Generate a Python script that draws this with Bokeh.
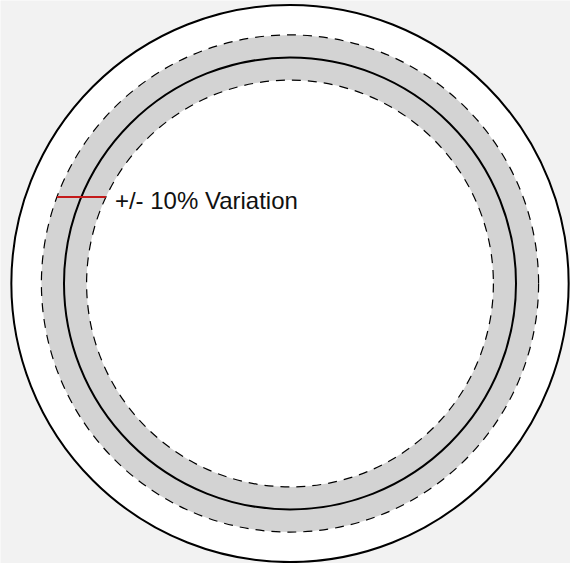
import numpy as np
from bokeh.plotting import figure
from bokeh.models import Range1d
from bokeh.embed import file_html
from bokeh.resources import INLINE
from bokeh.core.properties import value

# ---- data ----
nominal_radius = [1.0]          # solid reference circle
variation = 0.10                # +/- 10 %
band_inner = [nominal_radius[0] * (1 - variation)]
band_outer = [nominal_radius[0] * (1 + variation)]
boundary_radius = [1.233]       # outer frame circle
marker_angle_deg = 157.5        # where the red marker crosses the band
label_text = ["+/- 10% Variation"]

# ---- layout ----
W, H = 570, 563
scale = 226.0                   # px per unit
cx_px, cy_px = 289.5, 283.0     # centre inside the canvas

p = figure(width=W, height=H,
           x_range=Range1d(-cx_px / scale, (W - cx_px) / scale),
           y_range=Range1d(-(H - cy_px) / scale, cy_px / scale),
           output_backend="svg", toolbar_location=None,
           x_axis_location=None, y_axis_location=None,
           min_border=0, background_fill_color="#f2f2f2",
           border_fill_color="#f2f2f2", outline_line_color=None)
p.grid.visible = False

# outer boundary circle (white disc)
p.circle(x=[0], y=[0], radius=boundary_radius, fill_color="white",
         line_color="black", line_width=2)

# tolerance band
p.annulus(x=[0], y=[0], inner_radius=band_inner, outer_radius=band_outer,
          fill_color="#d3d3d3", line_color=None)

# dashed band edges
p.circle(x=[0, 0], y=[0, 0], radius=band_inner + band_outer,
         fill_color=None, line_color="black", line_width=1.2,
         line_dash="9 7")

# nominal circle
p.circle(x=[0], y=[0], radius=nominal_radius, fill_color=None,
         line_color="black", line_width=2)

# red marker across the band
ang = np.deg2rad(marker_angle_deg)
y0 = np.sin(ang) * nominal_radius[0]
x_out = -np.sqrt(band_outer[0] ** 2 - y0 ** 2)
x_in = -np.sqrt(band_inner[0] ** 2 - y0 ** 2)
p.segment(x0=[x_out], y0=[y0], x1=[x_in], y1=[y0],
          line_color="#c41a1a", line_width=2)

p.text(x=[x_in], y=[y0], text=label_text,
       text_font=value("Liberation Sans"), text_font_size="24px",
       text_baseline="alphabetic", text_align="left",
       x_offset=9, y_offset=3, text_color="#111111")

open("out.html", "w").write(file_html(p, INLINE))
